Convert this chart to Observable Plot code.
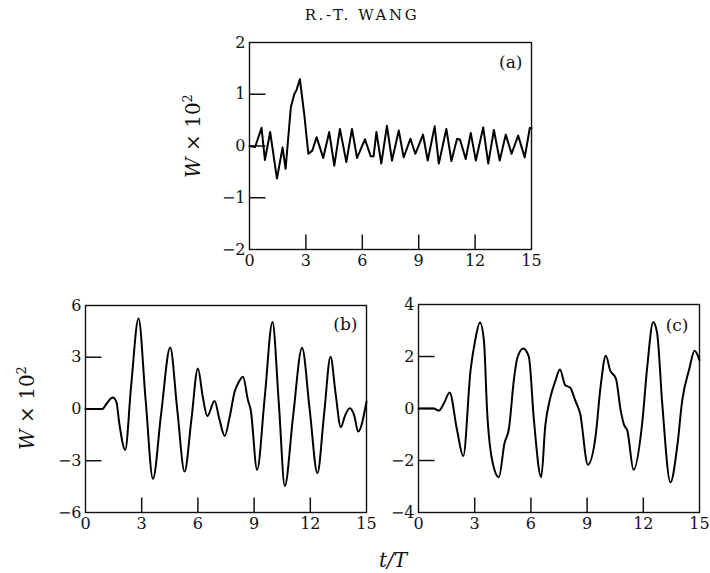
<!DOCTYPE html>
<html>
<head>
<meta charset="utf-8">
<script src="https://cdn.jsdelivr.net/npm/d3@7"></script>
<script src="https://cdn.jsdelivr.net/npm/@observablehq/plot@0.6"></script>
<style>
  html, body { margin: 0; padding: 0; background: #fff; }
  #root { position: relative; width: 710px; height: 573px; overflow: hidden; background: #fff; font-family: "DejaVu Serif", serif; color: #111; }
  .abs { position: absolute; }
  .title { left: 362px; top: 15px; transform: translate(-50%, -50%); font-size: 15px; letter-spacing: 2.6px; white-space: nowrap; }
  .ylab { transform: translate(-50%, -50%) rotate(-90deg); font-size: 20px; white-space: nowrap; }
  .ylab sup { font-size: 13px; vertical-align: 8px; line-height: 0; }
  .xlab { left: 393px; top: 560px; transform: translate(-50%, -50%); font-size: 20px; font-style: italic; white-space: nowrap; }
</style>
</head>
<body>
<div id="root">
  <div class="abs title">R.-T. WANG</div>
  <div class="abs ylab" style="left:193px; top:136px;"><i>W</i> × 10<sup>2</sup></div>
  <div class="abs ylab" style="left:27px; top:408px;"><i>W</i> × 10<sup>2</sup></div>
  <div class="abs xlab">t/T</div>
</div>
<script>
// ---- Data ----
const xTicks = [0, 3, 6, 9, 12, 15];

// Panel (a)
const tA = [0, 0.3, 0.64, 0.82, 1.10, 1.46, 1.76, 1.92, 2.2, 2.38, 2.5, 2.68, 2.91, 3.13, 3.34, 3.57, 3.92, 4.24, 4.51, 4.81, 5.15, 5.45, 5.72, 6.14, 6.45, 6.6, 6.75, 7.01, 7.31, 7.58, 7.94, 8.2, 8.56, 8.82, 9.23, 9.48, 9.85, 10.07, 10.47, 10.74, 11.04, 11.2, 11.5, 11.77, 12.04, 12.43, 12.7, 13.0, 13.31, 13.63, 13.94, 14.29, 14.64, 14.91, 15];
const wA = [0, -0.02, 0.35, -0.27, 0.27, -0.63, -0.03, -0.44, 0.75, 1.0, 1.08, 1.29, 0.62, -0.15, -0.09, 0.17, -0.23, 0.27, -0.38, 0.33, -0.31, 0.33, -0.23, 0.13, -0.2, -0.2, 0.27, -0.34, 0.39, -0.28, 0.30, -0.22, 0.14, -0.15, 0.22, -0.28, 0.38, -0.34, 0.33, -0.29, 0.14, 0.12, -0.25, 0.25, -0.28, 0.36, -0.34, 0.31, -0.28, 0.22, -0.15, 0.2, -0.22, 0.35, 0.35];
const yTicksA = [-2, -1, 0, 1, 2];

// Panel (b)
const tB = [0, 0.9, 1.15, 1.46, 1.65, 1.8, 2.12, 2.44, 2.83, 3.21, 3.6, 4.04, 4.52, 4.9, 5.29, 5.65, 6.0, 6.26, 6.5, 6.89, 7.15, 7.43, 7.7, 7.96, 8.15, 8.41, 8.67, 8.82, 9.16, 9.57, 9.98, 10.32, 10.64, 11.08, 11.56, 11.97, 12.38, 12.74, 13.08, 13.35, 13.63, 13.85, 14.11, 14.35, 14.55, 15];
const wB = [0, 0, 0.35, 0.66, 0.4, -0.8, -2.37, 1.4, 5.25, 0.52, -4.05, -0.25, 3.57, -0.06, -3.63, -0.64, 2.35, 0.71, -0.41, 0.46, -0.6, -1.56, -0.44, 1.0, 1.5, 1.87, 0.52, -0.06, -3.53, 0.71, 5.05, 0.33, -4.46, -0.44, 3.55, -0.06, -3.72, -0.25, 3.03, 0.9, -1.06, -0.4, 0.04, -0.4, -1.31, 0.43];
const yTicksB = [-6, -3, 0, 3, 6];

// Panel (c)
const tC = [0, 0.82, 1.09, 1.36, 1.66, 2.05, 2.39, 2.78, 3.02, 3.28, 3.49, 3.67, 3.93, 4.29, 4.59, 4.83, 5.09, 5.27, 5.59, 5.89, 6.16, 6.55, 6.77, 7.03, 7.3, 7.55, 7.83, 8.1, 8.37, 8.63, 9.04, 9.45, 9.72, 10.0, 10.23, 10.54, 10.79, 10.97, 11.15, 11.48, 11.94, 12.21, 12.53, 12.74, 13.01, 13.45, 13.81, 14.08, 14.44, 14.74, 15];
const wC = [0, 0, -0.08, 0.2, 0.62, -0.8, -1.83, 1.48, 2.6, 3.31, 2.63, -0.19, -1.98, -2.64, -1.34, -0.76, 1.09, 1.93, 2.31, 1.99, -0.44, -2.64, -0.65, 0.4, 1.05, 1.5, 0.9, 0.8, 0.3, -0.2, -2.16, -1.08, 0.84, 2.03, 1.47, 1.15, -0.06, -0.62, -0.86, -2.36, -0.57, 1.6, 3.33, 2.89, 0.2, -2.84, -1.47, 0.32, 1.48, 2.22, 1.86];
const yTicksC = [-4, -2, 0, 2, 4];

const labels = ["(a)", "(b)", "(c)"];

// ---- Drawing ----
const fmt = d => (d < 0 ? "\u2212" + Math.abs(d) : String(d));

function panel(t, w, yDomain, yTicks, label, curve, box, lab) {
  const data = t.map((d, i) => ({t: d, w: w[i]}));
  const innerX = xTicks.filter(d => d > 0 && d < 15);
  const innerY = yTicks.filter(d => d > yDomain[0] && d < yDomain[1]);
  const innerH = box.height - box.mt - box.mb;
  const innerW = box.width - box.ml - box.mr;
  // tick lengths in pixels, converted to data units through the scale extents
  const yLen = 15 * (yDomain[1] - yDomain[0]) / innerH;
  const xLen = 16 * 15 / innerW;
  const svg = Plot.plot({
    width: box.width, height: box.height,
    marginLeft: box.ml, marginRight: box.mr, marginTop: box.mt, marginBottom: box.mb,
    style: {fontFamily: "DejaVu Serif, serif", fontSize: "16px", background: "transparent", color: "#111", overflow: "visible"},
    x: {domain: [0, 15]},
    y: {domain: yDomain},
    marks: [
      Plot.axisX({ticks: xTicks, tickSize: 0, tickPadding: 5, tickFormat: fmt, label: null, fontSize: 16}),
      Plot.axisY({ticks: yTicks, tickSize: 0, tickPadding: 4, tickFormat: fmt, label: null, fontSize: 16}),
      Plot.link(innerX, {x1: d => d, x2: d => d, y1: () => yDomain[0], y2: () => yDomain[0] + yLen, stroke: "#111", strokeWidth: 1.5}),
      Plot.link(innerY, {y1: d => d, y2: d => d, x1: () => 0, x2: () => xLen, stroke: "#111", strokeWidth: 1.5}),
      Plot.frame({stroke: "#111", strokeWidth: 1.4}),
      Plot.line(data, {x: "t", y: "w", curve, stroke: "#000", strokeWidth: 2}),
      Plot.text([label], {frameAnchor: "top-right", textAnchor: "end", lineAnchor: "middle", dx: lab.dx, dy: lab.dy, fontSize: 17, fill: "#111"})
    ]
  });
  svg.style.position = "absolute";
  svg.style.left = box.left + "px";
  svg.style.top = box.top + "px";
  document.getElementById("root").appendChild(svg);
}

panel(tA, wA, [-2, 2], yTicksA, labels[0], "linear",
  {left: 170, top: 0, width: 370, height: 290, ml: 79, mr: 9, mt: 42, mb: 41}, {dx: -9, dy: 20});
panel(tB, wB, [-6, 6], yTicksB, labels[1], "monotone-x",
  {left: 0, top: 285, width: 380, height: 288, ml: 85, mr: 14, mt: 20, mb: 61}, {dx: -9, dy: 19});
panel(tC, wC, [-4, 4], yTicksC, labels[2], "monotone-x",
  {left: 370, top: 285, width: 340, height: 288, ml: 48, mr: 11, mt: 19, mb: 61}, {dx: -11, dy: 21});
</script>
</body>
</html>
